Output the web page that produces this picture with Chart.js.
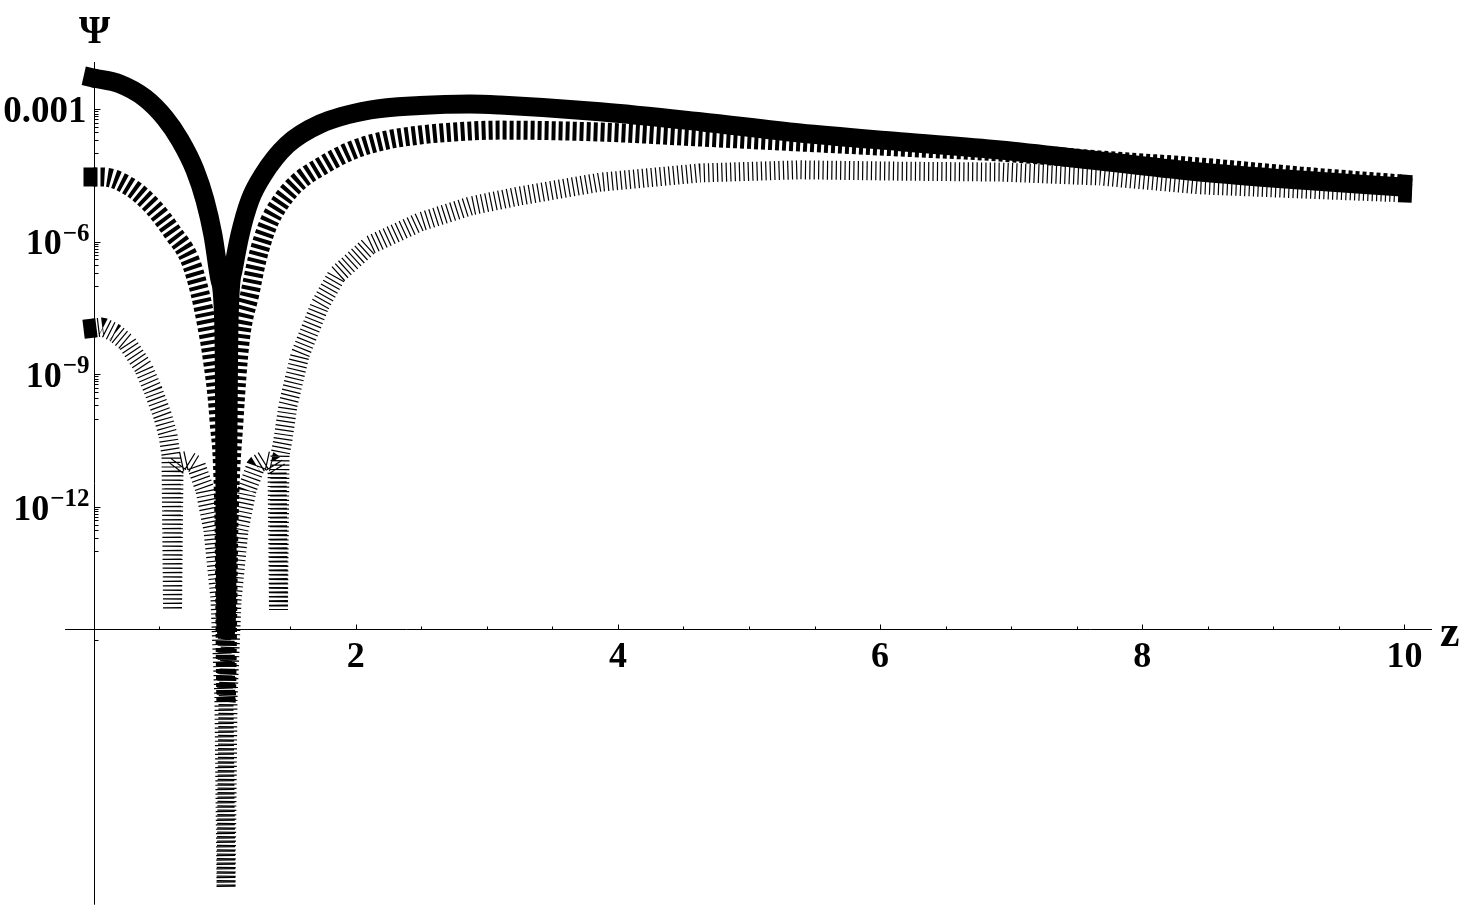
<!DOCTYPE html>
<html><head><meta charset="utf-8">
<script src="https://cdn.jsdelivr.net/npm/chart.js@4/dist/chart.umd.min.js"></script>
<style>html,body{margin:0;padding:0;background:#fff;overflow:hidden}#wrap{width:1461px;height:906px}</style>
</head><body><div id="wrap"><canvas id="c" width="1461" height="906"></canvas></div>
<script>
// ---- data ----
const s1z = [0, 0.202, 0.393, 0.545, 0.660, 0.774, 0.850, 0.911, 0.965, 0.995, 1.011, 1.034, 1.065, 1.117, 1.194, 1.293, 1.476, 1.728, 2.109, 2.490, 2.872, 3.101, 3.864, 4.627, 5.389, 6.152, 6.915, 7.678, 8.440, 9.203, 9.981];
const s1psi = [5.10e-3, 3.74e-3, 1.80e-3, 6.35e-4, 2.02e-4, 4.23e-5, 8.85e-6, 1.43e-6, 1.37e-7, 1.01e-8, 1.66e-15, 1.70e-8, 2.31e-7, 1.43e-6, 8.85e-6, 3.26e-5, 1.56e-4, 4.65e-4, 9.64e-4, 1.22e-3, 1.32e-3, 1.25e-3, 8.83e-4, 5.24e-4, 2.91e-4, 1.85e-4, 1.20e-4, 6.76e-5, 3.81e-5, 2.51e-5, 1.75e-5];

const s2z = [0, 0.072, 0.278, 0.454, 0.606, 0.736, 0.812, 0.866, 0.904, 0.957, 0.995, 1.011, 1.034, 1.072, 1.117, 1.194, 1.247, 1.324, 1.423, 1.552, 1.728, 1.979, 2.239, 2.490, 2.742, 3.101, 3.864, 4.627, 5.389, 6.152, 6.915, 7.678, 8.440, 9.203, 9.981];
const s2psi = [2.94e-5, 2.94e-5, 1.75e-5, 6.15e-6, 1.59e-6, 3.89e-7, 6.97e-8, 1.19e-8, 2.48e-9, 9.33e-11, 5.13e-13, 3.72e-17, 5.13e-13, 9.33e-11, 5.15e-9, 6.97e-8, 3.89e-7, 2.17e-6, 7.59e-6, 2.15e-5, 4.94e-5, 1.20e-4, 2.02e-4, 2.62e-4, 3.06e-4, 3.38e-4, 3.06e-4, 2.36e-4, 1.82e-4, 1.40e-4, 1.08e-4, 7.13e-5, 4.94e-5, 3.10e-5, 2.04e-5];

const s3z = [0, 0.072, 0.164, 0.256, 0.378, 0.454, 0.530, 0.568, 0.591, 0.603, 0.614, 0.660, 0.721, 0.782, 0.850, 0.911, 0.965, 0.995, 1.011, 1.026, 1.057, 1.110, 1.171, 1.240, 1.301, 1.362, 1.400, 1.411, 1.423, 1.445, 1.484, 1.575, 1.667, 1.728, 1.857, 2.109, 2.490, 2.872, 3.253, 3.864, 4.627, 5.389, 6.152, 6.915, 7.678, 8.440, 9.203, 9.981];
const s3psi = [1.12e-8, 1.19e-8, 8.67e-9, 5.15e-9, 1.48e-9, 4.45e-10, 1.09e-10, 4.27e-11, 1.51e-11, 4.68e-15, 6.92e-12, 1.05e-11, 1.15e-11, 8.91e-12, 2.40e-12, 3.02e-13, 7.94e-15, 4.27e-17, 2.40e-21, 4.27e-17, 7.94e-15, 3.02e-13, 2.40e-12, 8.91e-12, 1.15e-11, 1.05e-11, 6.92e-12, 4.68e-15, 1.51e-11, 3.31e-11, 2.04e-10, 2.75e-9, 1.32e-8, 3.72e-8, 1.78e-7, 8.51e-7, 2.82e-6, 6.46e-6, 1.10e-5, 2.24e-5, 3.63e-5, 4.27e-5, 3.98e-5, 3.80e-5, 3.09e-5, 1.95e-5, 1.58e-5, 1.29e-5];

// ---- ticks ----
const xTickValues = [2, 4, 6, 8, 10];
const xTickLabels = ['2', '4', '6', '8', '10'];
const xMinorTicks = [0.5, 1, 1.5, 2.5, 3, 3.5, 4.5, 5, 5.5, 6.5, 7, 7.5, 8.5, 9, 9.5];
const yTickValues = [1e-3, 1e-6, 1e-9, 1e-12];
const yTickBase = ['0.001', '10', '10', '10'];
const yTickExp = ['', '\u22126', '\u22129', '\u221212'];
const yExtraTicks = [1e-15];
const xAxisTitle = 'z';
const yAxisTitle = '\u03A8';

// ---- layout / view (not data) ----
const VIEW = { xMin: -0.7132, xMax: 10.431, yMin: Math.pow(10, -21.029), yMax: Math.pow(10, -0.5266) };
const AXES = { xFrom: -0.217, xTo: 10.21, crossY: Math.pow(10, -14.76), yFrom: Math.pow(10, -1.93), yTo: Math.pow(10, -21.0) };
const FONT = '"Liberation Serif", "Times New Roman", serif';

function pts(xs, ys) { return xs.map((x, i) => ({ x: x, y: ys[i] })); }

const axesPlugin = {
  id: 'mmaAxes',
  beforeDatasetsDraw(chart) {
    const ctx = chart.ctx, xs = chart.scales.x, ys = chart.scales.y;
    const ax = Math.round(xs.getPixelForValue(0)) + 0.5;
    const ay = Math.round(ys.getPixelForValue(AXES.crossY)) + 0.5;
    ctx.save();
    ctx.strokeStyle = '#000'; ctx.lineWidth = 1;
    ctx.beginPath();
    ctx.moveTo(xs.getPixelForValue(AXES.xFrom), ay); ctx.lineTo(xs.getPixelForValue(AXES.xTo), ay);
    ctx.moveTo(ax, ys.getPixelForValue(AXES.yFrom)); ctx.lineTo(ax, ys.getPixelForValue(AXES.yTo));
    xTickValues.forEach(v => { const p = Math.round(xs.getPixelForValue(v)) + 0.5; ctx.moveTo(p, ay); ctx.lineTo(p, ay - 5); });
    xMinorTicks.forEach(v => { const p = Math.round(xs.getPixelForValue(v)) + 0.5; ctx.moveTo(p, ay); ctx.lineTo(p, ay - 3); });
    yTickValues.forEach(v => {
      const p = Math.round(ys.getPixelForValue(v)) + 0.5; ctx.moveTo(ax, p); ctx.lineTo(ax + 6, p);
      for (let m = 1; m <= 9; m++) {
        const q = Math.round(ys.getPixelForValue(v * m / 10)) + 0.5; ctx.moveTo(ax, q); ctx.lineTo(ax + 4, q);
      }
    });
    yExtraTicks.forEach(v => { const p = Math.round(ys.getPixelForValue(v)) + 0.5; ctx.moveTo(ax, p); ctx.lineTo(ax + 4, p); });
    ctx.stroke();
    ctx.fillStyle = '#000';
    ctx.textBaseline = 'alphabetic';
    ctx.font = 'bold 36px ' + FONT;
    ctx.textAlign = 'center';
    xTickValues.forEach((v, i) => { ctx.fillText(xTickLabels[i], xs.getPixelForValue(v), ay + 37); });
    ctx.textAlign = 'right';
    yTickValues.forEach((v, i) => {
      const p = ys.getPixelForValue(v);
      const right = ax - 5;
      if (yTickExp[i]) {
        ctx.font = 'bold 25px ' + FONT;
        const w = ctx.measureText(yTickExp[i]).width;
        ctx.fillText(yTickExp[i], right, p - 1);
        ctx.font = 'bold 36px ' + FONT;
        ctx.fillText(yTickBase[i], right - w - 1, p + 12.5);
      } else {
        ctx.font = 'bold 37px ' + FONT;
        ctx.fillText(yTickBase[i], right - 3, p + 12.5);
      }
    });
    ctx.font = 'bold 40px ' + FONT;
    ctx.textAlign = 'center';
    ctx.fillText(yAxisTitle, ax, ys.getPixelForValue(AXES.yFrom) - 19);
    ctx.font = 'bold 44px ' + FONT;
    ctx.textAlign = 'left';
    ctx.fillText(xAxisTitle, xs.getPixelForValue(AXES.xTo) + 8, ay + 16);
    ctx.restore();
  },
  afterDatasetsDraw(chart) {
    const ctx = chart.ctx;
    ctx.save();
    chart.data.datasets.forEach((ds, di) => {
      const el = chart.getDatasetMeta(di).data;
      if (el.length < 2) return;
      const ends = [[el[0], el[1]], [el[el.length - 1], el[el.length - 2]]];
      ends.forEach(([a, b]) => {
        const ang = Math.atan2(a.y - b.y, a.x - b.x);
        ctx.save();
        ctx.translate(a.x, a.y); ctx.rotate(ang);
        ctx.fillStyle = '#000';
        const w = ds.borderWidth;
        ctx.fillRect(-3, -w / 2, 13, w);
        ctx.restore();
      });
    });
    ctx.restore();
  }
};

const common = { showLine: true, pointRadius: 0, pointHoverRadius: 0, borderColor: '#000', backgroundColor: '#000', fill: false, borderCapStyle: 'butt', borderJoinStyle: 'bevel' };

new Chart(document.getElementById('c'), {
  type: 'line',
  data: {
    datasets: [
      Object.assign({ label: 's1', data: pts(s1z, s1psi), borderWidth: 19, cubicInterpolationMode: 'monotone' }, common),
      Object.assign({ label: 's2', data: pts(s2z, s2psi), borderWidth: 19, borderDash: [4, 3], cubicInterpolationMode: 'monotone' }, common),
      Object.assign({ label: 's3', data: pts(s3z, s3psi), borderWidth: 19, borderDash: [1.2, 3.2], tension: 0 }, common)
    ]
  },
  options: {
    responsive: false, animation: false, devicePixelRatio: 1,
    layout: { padding: 0 },
    plugins: { legend: { display: false }, tooltip: { enabled: false } },
    events: [],
    scales: {
      x: { type: 'linear', display: false, min: VIEW.xMin, max: VIEW.xMax, bounds: 'data' },
      y: { type: 'logarithmic', display: false, min: VIEW.yMin, max: VIEW.yMax, bounds: 'data' }
    }
  },
  plugins: [axesPlugin]
});
</script></body></html>
